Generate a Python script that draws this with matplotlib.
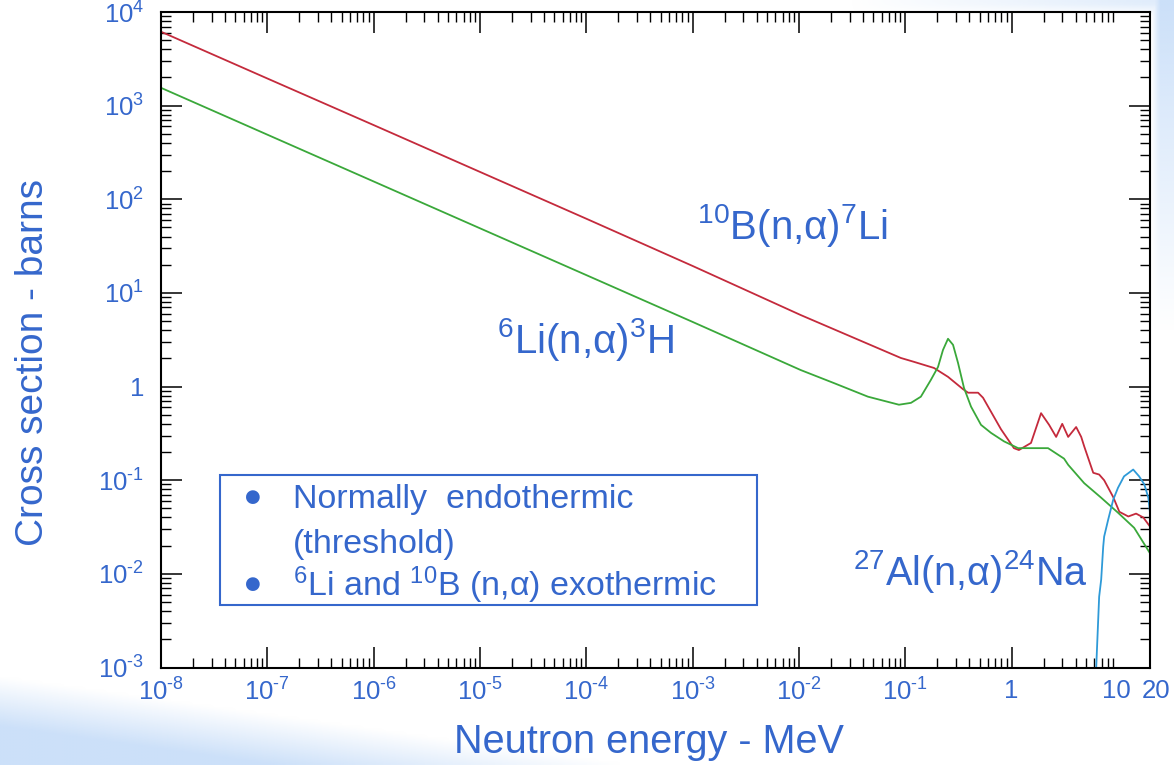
import numpy as np
import matplotlib.pyplot as plt
import matplotlib.transforms as mtransforms
from matplotlib.patches import Rectangle
from matplotlib.ticker import LogLocator, NullFormatter

# values: neutron energy (MeV) and cross section (barns)
b10_energy = [1e-8, 1e-7, 1e-6, 1e-5, 1e-4, 1e-3, 0.0104, 0.0908, 0.120, 0.186,
              0.252, 0.348, 0.389, 0.483, 0.538, 0.794, 1.05, 1.17, 1.52, 1.89,
              2.25, 2.62, 2.99, 3.40, 4.04, 4.51, 4.81, 5.85, 6.65, 7.41,
              9.02, 10.3, 12.5, 14.8, 17.3, 20]
b10_sigma = [6160, 1950, 620, 196, 62, 19.4, 5.8, 2.02, 1.84, 1.58,
             1.27, 0.94, 0.86, 0.86, 0.76, 0.35, 0.22, 0.21, 0.25, 0.52,
             0.39, 0.29, 0.40, 0.29, 0.37, 0.29, 0.23, 0.12, 0.115, 0.10,
             0.066, 0.046, 0.041, 0.044, 0.040, 0.032]

li6_energy = [1e-8, 1e-7, 1e-6, 1e-5, 1e-4, 1e-3, 0.0104, 0.0213, 0.0445, 0.0871,
              0.113, 0.140, 0.174, 0.203, 0.226, 0.252, 0.281, 0.313, 0.356, 0.415,
              0.515, 0.640, 0.847, 1.15, 1.63, 2.20, 3.11, 3.40, 4.81, 6.95,
              10.0, 14.2, 20]
li6_sigma = [1550, 490, 155, 49, 15.5, 4.9, 1.50, 1.09, 0.78, 0.64,
             0.67, 0.78, 1.18, 1.62, 2.46, 3.24, 2.79, 1.79, 0.97, 0.61,
             0.39, 0.32, 0.26, 0.22, 0.22, 0.22, 0.17, 0.146, 0.093, 0.065,
             0.045, 0.031, 0.0166]

al27_energy = [6.1, 6.24, 6.65, 6.95, 7.26, 7.41, 8.09, 9.02, 10.0, 11.4,
               13.9, 15.8, 17.7, 19.3, 20]
al27_sigma = [0.0007, 0.001, 0.0057, 0.0087, 0.0195, 0.025, 0.038, 0.062, 0.083, 0.11,
              0.13, 0.11, 0.09, 0.065, 0.045]

x_ticks = [1e-8, 1e-7, 1e-6, 1e-5, 1e-4, 1e-3, 1e-2, 1e-1, 1, 10, 20]
x_exps = ['-8', '-7', '-6', '-5', '-4', '-3', '-2', '-1', None, None, None]
x_plain = ['', '', '', '', '', '', '', '', '1', '10', '20']
y_ticks = [1e-3, 1e-2, 1e-1, 1, 1e1, 1e2, 1e3, 1e4]
y_exps = ['-3', '-2', '-1', None, '1', '2', '3', '4']

plt.rcParams['font.family'] = ['Liberation Sans', 'DejaVu Sans']
plt.rcParams['mathtext.fontset'] = 'custom'
plt.rcParams['mathtext.rm'] = 'Liberation Sans'
plt.rcParams['mathtext.it'] = 'Liberation Sans:italic'
plt.rcParams['mathtext.bf'] = 'Liberation Sans:bold'

blue = '#3567cc'
W, H = 1174, 765
fig = plt.figure(figsize=(W / 100, H / 100), dpi=100)

# slide background: pale blue shading in the corners
bg = fig.add_axes([0, 0, 1, 1], zorder=-10)
yy, xx = np.mgrid[0:H:3, 0:W:3].astype(float)
t1 = np.clip((yy - 675 - 0.14 * xx) / 50, 0, 1)
t2 = np.clip((xx - 1152) / 8, 0, 1) * np.clip(1 - yy / 330, 0, 1)
t3 = np.clip((14 - yy) / 12, 0, 1) * np.clip((xx - 850) / 300, 0, 1) * 0.6
t = np.maximum(np.maximum(t1, t2), t3)
img = np.zeros(t.shape + (4,))
img[..., 0], img[..., 1], img[..., 2] = 0.80, 0.88, 0.98
img[..., 3] = t
bg.imshow(img, extent=[0, W, H, 0], aspect='auto', interpolation='bilinear')
bg.set_xlim(0, W)
bg.set_ylim(H, 0)
bg.axis('off')


def pow_label(e):
    return r'$\mathregular{10^{%s}}$' % e.replace('-', r'\text{-}')


ax = fig.add_axes([161 / W, 1 - 667.5 / H, 989 / W, 655.5 / H])
ax.loglog(b10_energy, b10_sigma, color='#c42a3c', lw=1.3)
ax.loglog(li6_energy, li6_sigma, color='#3aa83a', lw=1.3)
ax.loglog(al27_energy, al27_sigma, color='#2e9ad8', lw=1.3)
ax.set_xlim(1e-8, 20)
ax.set_ylim(1e-3, 1e4)

ax.set_xticks(x_ticks)
ax.set_xticklabels([pow_label(e) if e else p for e, p in zip(x_exps, x_plain)])
ax.set_yticks(y_ticks)
ax.set_yticklabels([pow_label(e) if e else '1' for e in y_exps])
ax.xaxis.set_minor_locator(LogLocator(base=10, subs=np.arange(2, 10), numticks=40))
ax.yaxis.set_minor_locator(LogLocator(base=10, subs=np.arange(2, 10), numticks=40))
ax.xaxis.set_minor_formatter(NullFormatter())
ax.yaxis.set_minor_formatter(NullFormatter())

ax.tick_params(which='both', direction='in', top=True, right=True, color='black',
               labelcolor=blue, labelsize=18.5)
ax.tick_params(which='major', length=15, width=1.1)
ax.tick_params(which='minor', length=7.5, width=1.0)
ax.tick_params(axis='x', which='major', pad=8)
ax.tick_params(axis='y', which='major', pad=12)
for sp in ax.spines.values():
    sp.set_linewidth(1.5)
# no tick marks drawn at 10 and 20 MeV, and their labels pulled apart a little
shifts = {9: -2, 10: 6}
for i, tk in enumerate(ax.xaxis.get_major_ticks()):
    if i in shifts:
        tk.tick1line.set_visible(False)
        tk.tick2line.set_visible(False)
        off = mtransforms.ScaledTranslation(shifts[i] / 100, 0, fig.dpi_scale_trans)
        tk.label1.set_transform(tk.label1.get_transform() + off)


def ftext(x, y, s, **kw):
    return fig.text(x / W, 1 - y / H, s, color=blue, **kw)


ftext(649, 742, 'Neutron energy - MeV', ha='center', va='center', fontsize=28.5)
ftext(33, 363, 'Cross section - barns', ha='center', va='center', fontsize=28, rotation=90)

ftext(697, 239, r'$\mathregular{^{10}B(n{,}α)^{7}Li}$', va='baseline', fontsize=29)
ftext(497, 353, r'$\mathregular{^{6}Li(n{,}α)^{3}H}$', va='baseline', fontsize=29)
ftext(853, 585, r'$\mathregular{^{27}Al(n{,}α)^{24}Na}$', va='baseline', fontsize=28.5)

# note box
box = Rectangle((220 / W, 1 - 605 / H), 537 / W, 130 / H, transform=fig.transFigure,
                facecolor='white', edgecolor=blue, lw=1.5, zorder=5)
fig.add_artist(box)
ftext(253, 502, '●', ha='center', va='baseline', fontsize=13, zorder=6,
      family=['DejaVu Sans'])
ftext(293, 508, 'Normally  endothermic', va='baseline', fontsize=24.5, zorder=6)
ftext(293, 553, '(threshold)', va='baseline', fontsize=24.5, zorder=6)
ftext(253, 589, '●', ha='center', va='baseline', fontsize=13, zorder=6,
      family=['DejaVu Sans'])
ftext(293, 596, r'$\mathregular{^{6}Li\ and\ ^{10}B\ (n{,}α)\ exothermic}$', va='baseline',
      fontsize=24.5, zorder=6)

fig.savefig('out.png', dpi=100)
